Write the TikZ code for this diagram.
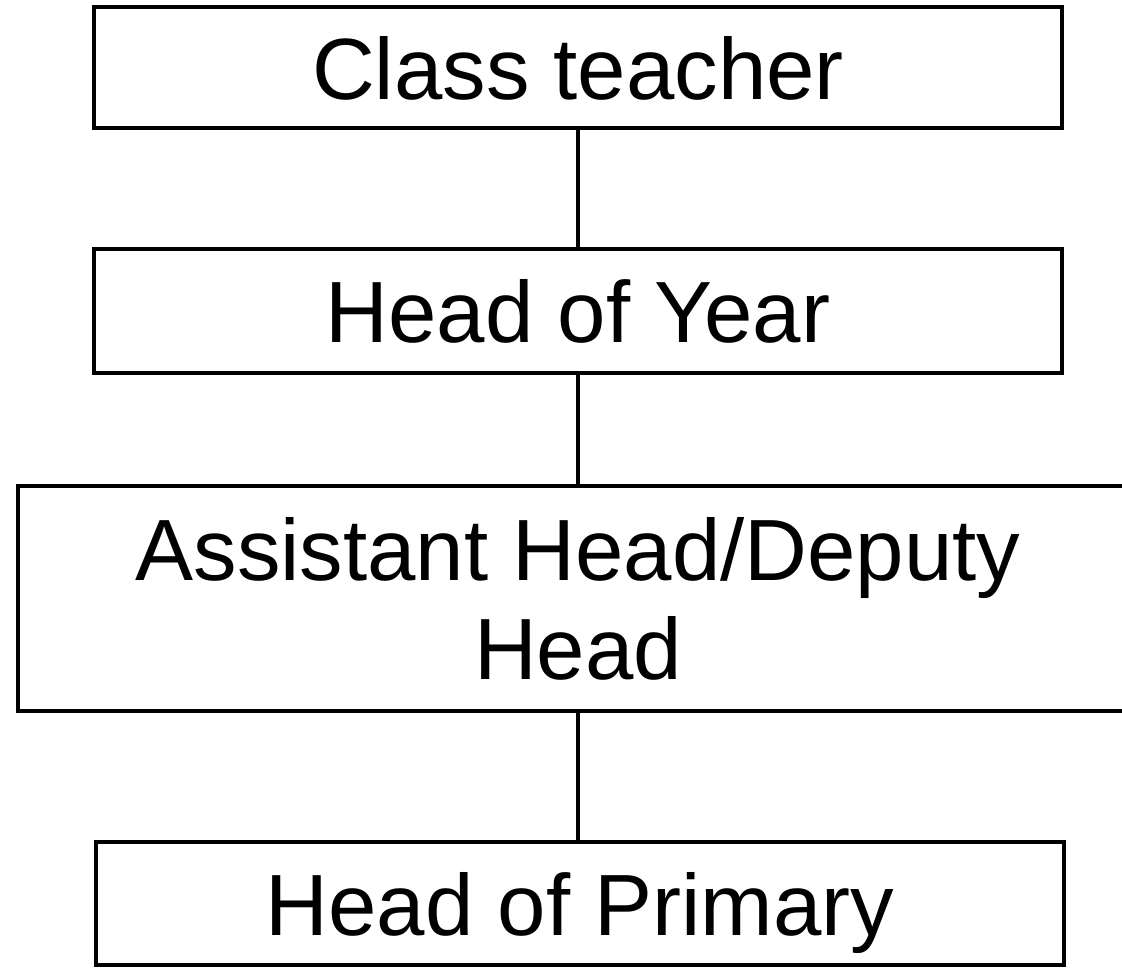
\documentclass[tikz,border=0pt]{standalone}
\usepackage{fontspec}
\setmainfont{Liberation Sans}
\begin{document}
\begin{tikzpicture}[box/.style={draw,line width=2.55pt,inner sep=0pt,minimum width=19.36cm,font=\fontsize{49.5pt}{55.8pt}\selectfont,text height=1.26cm,text depth=0pt}]
\clip (0.,0.) rectangle (22.44,-19.34);
\useasboundingbox (0.,0.) rectangle (22.44,-19.34);
\node[box,minimum height=2.42cm] (ct) at (11.56,-1.35) {Class teacher};
\node[box,minimum height=2.48cm] (hoy) at (11.56,-6.22) {Head of Year};
\node[box,minimum height=4.5cm,minimum width=22.4cm,align=center,text height=3.22cm] (ahd) at (11.56,-11.97) {Assistant Head/Deputy\\Head};
\node[box,minimum height=2.46cm] (hop) at (11.6,-18.07) {Head of Primary};
\draw [line width=2.55pt] (ct.south) -- (hoy.north);
\draw [line width=2.55pt] (hoy.south) -- (ahd.north);
\draw [line width=2.55pt] (ahd.south) -- (ahd.south|-hop.north);
\end{tikzpicture}
\end{document}
